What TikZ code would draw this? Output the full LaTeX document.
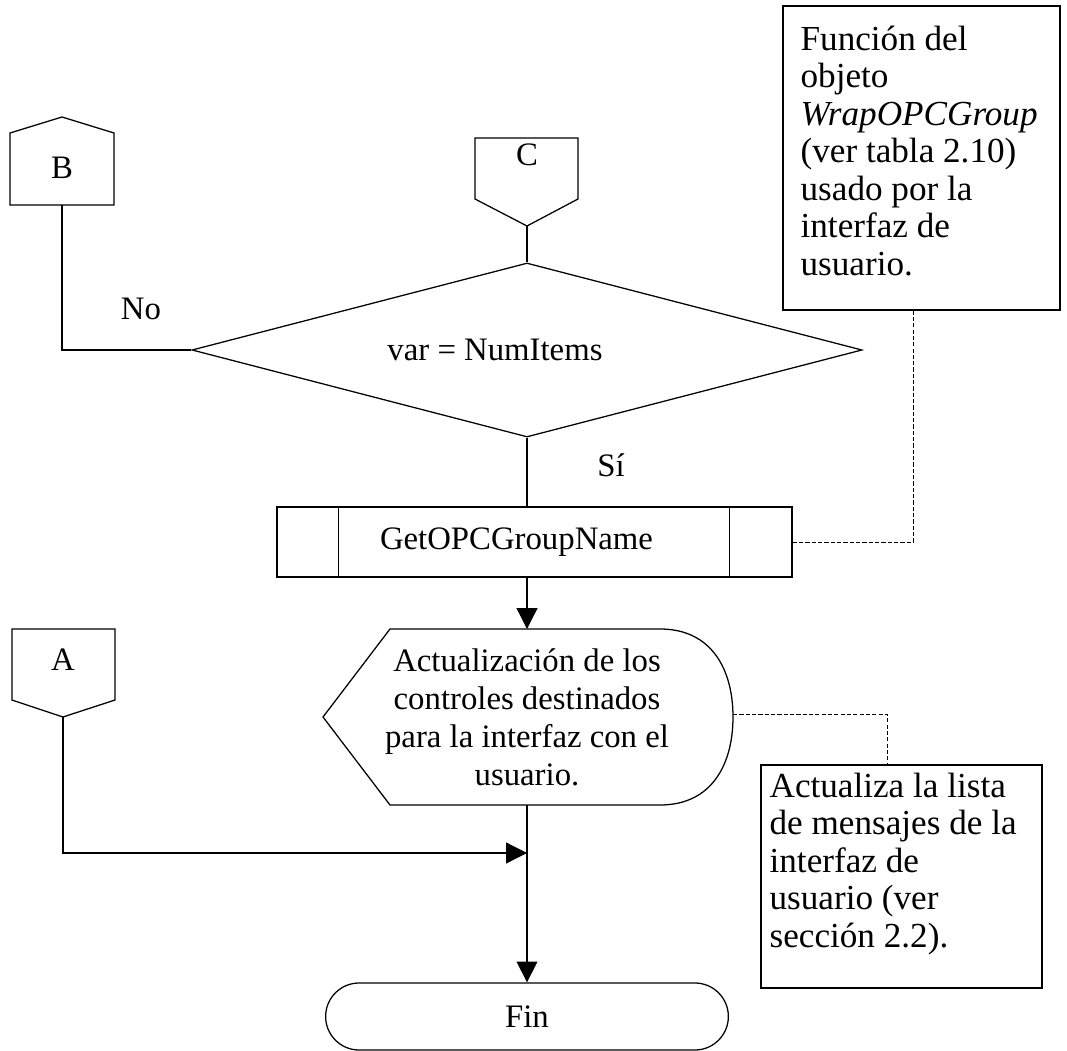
\documentclass[tikz,border=0pt]{standalone}
\usepackage{fontspec}
\setmainfont{Liberation Serif}
\usetikzlibrary{shapes.geometric,shapes.misc,arrows.meta}

\begin{document}
\begin{tikzpicture}[x=0.025cm,y=-0.025cm,line width=0.9pt,
    flecha/.style={-{Triangle[length=0.52cm,width=0.52cm]}},
    punteada/.style={dash pattern=on 3pt off 1.5pt,line width=0.7pt},
    nota/.style={anchor=north west,inner sep=0pt,align=left,font=\fontsize{25}{26.7}\selectfont}]
    \useasboundingbox (0,0) rectangle (1067,1051);

    \begin{scope}[every node/.style={font=\fontsize{23.3}{27}\selectfont}]
        \draw (10,133) -- (62,117) -- (114,133) -- (114,205) -- (10,205) -- cycle;
        \node (B) at (62,168) {B};
        \coordinate (Bsal) at (62,205);

        \draw (475,138) -- (578,138) -- (578,199) -- (527,226) -- (475,199) -- cycle;
        \node (C) at (527,155) {C};
        \coordinate (Csal) at (527,226);

        \draw (12,629) -- (115,629) -- (115,700) -- (63,717) -- (12,700) -- cycle;
        \node (A) at (63,660) {A};
        \coordinate (Asal) at (63,717);

        \node[diamond,draw,aspect=3.85,minimum width=16.75cm,minimum height=4.35cm,inner sep=0pt,
              label={[xshift=-0.8cm]center:var = NumItems}] (cond) at (527,350) {};
        \node (no) at (141,309) {No};
        \node (si) at (611,465) {Sí};

        \node[draw,minimum width=12.875cm,minimum height=1.75cm,
              label={[xshift=-0.45cm]center:GetOPCGroupName}] (proc) at (534.5,542) {};
        \draw ([xshift=1.55cm]proc.north west) -- ([xshift=1.55cm]proc.south west);
        \draw ([xshift=-1.575cm]proc.north east) -- ([xshift=-1.575cm]proc.south east);

        \draw (323,717) -- (390,629) -- (660,629) .. controls (712,629) and (733,670) .. (733,717)
              .. controls (733,764) and (712,805) .. (660,805) -- (390,805) -- cycle;
        \node[align=center] (disp) at (527,717) {Actualización de los\\controles destinados\\para la interfaz con el\\usuario.};
        \coordinate (dispN) at (527,629);
        \coordinate (dispS) at (527,805);
        \coordinate (dispE) at (733,714);
        \coordinate (union) at (527,853);

        \node[rounded rectangle,draw,minimum width=10.3cm,minimum height=1.675cm] (fin) at (527,1016.5) {Fin};

        \node[draw,minimum width=6.925cm,minimum height=7.6cm] (nota1) at (921.5,158) {};
        \node[nota] (txt1) at (800,25) {Función del\\objeto\\\textit{WrapOPCGroup}\\(ver tabla 2.10)\\usado por la\\interfaz de\\usuario.};

        \node[draw,minimum width=7.025cm,minimum height=5.575cm] (nota2) at (901.5,876.5) {};
        \node[nota] (txt2) at (769,772) {Actualiza la lista\\de mensajes de la\\interfaz de\\usuario (ver\\sección 2.2).};
    \end{scope}

    \draw (Bsal) |- (cond.west);
    \draw (Csal) -- (cond.north);
    \draw (cond.south) -- (cond.south |- proc.north);
    \draw[flecha] (cond.south |- proc.south) -- (dispN);
    \draw[flecha] (dispS) -- (fin.north);
    \draw[flecha] (Asal) |- (union);
    \draw[punteada] (proc.east) -| ([xshift=-0.2cm]nota1.south);
    \draw[punteada] (dispE) -| ([xshift=-0.3625cm]nota2.north);
\end{tikzpicture}
\end{document}
